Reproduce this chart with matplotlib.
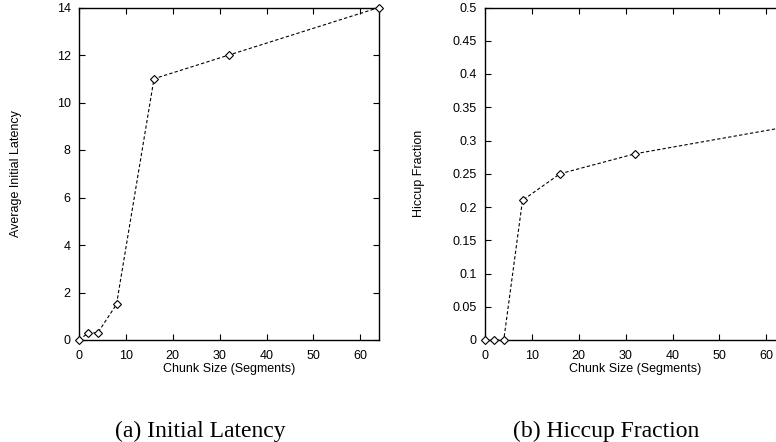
import matplotlib
matplotlib.use("Agg")
import matplotlib.pyplot as plt

# chunk sizes (segments)
chunk = [0, 2, 4, 8, 16, 32, 64]
latency = [0, 0.3, 0.3, 1.5, 11, 12, 14]
hiccup = [0, 0, 0, 0.21, 0.25, 0.28, 0.32]

x_ticks = [0, 10, 20, 30, 40, 50, 60]
lat_ticks = [0, 2, 4, 6, 8, 10, 12, 14]
hic_ticks = [0, 0.05, 0.1, 0.15, 0.2, 0.25, 0.3, 0.35, 0.4, 0.45, 0.5]
hic_labels = ["0", "0.05", "0.1", "0.15", "0.2", "0.25", "0.3", "0.35", "0.4", "0.45", "0.5"]

plt.rcParams['font.family'] = ['Liberation Sans', 'DejaVu Sans']

fig = plt.figure(figsize=(7.76, 4.42), dpi=100)
ax1 = fig.add_axes([79 / 776, 102 / 442, 300 / 776, 332.5 / 442])
ax2 = fig.add_axes([485 / 776, 102 / 442, 300 / 776, 332.5 / 442])


def style(ax):
    ax.tick_params(direction='in', length=4, width=0.8, top=True, right=True,
                   labelsize=9, color='black')
    ax.tick_params(axis='x', pad=7)
    ax.tick_params(axis='y', pad=6)
    for s in ax.spines.values():
        s.set_linewidth(1.0)
    ax.set_xlim(0, 64)
    ax.set_xticks(x_ticks)
    ax.set_xlabel("Chunk Size (Segments)", fontsize=9, labelpad=1)


ax1.plot(chunk, latency, color='black', linestyle='--', linewidth=0.8,
         dashes=(3, 2), marker='D', markersize=3.8, markerfacecolor='white',
         markeredgecolor='black', markeredgewidth=0.8, clip_on=False, zorder=3)
style(ax1)
ax1.set_ylim(0, 14)
ax1.set_yticks(lat_ticks)
ax1.set_ylabel("Average Initial Latency", fontsize=9)
ax1.yaxis.set_label_coords(-0.19, 0.5)

ax2.plot(chunk, hiccup, color='black', linestyle='--', linewidth=0.8,
         dashes=(3, 2), marker='D', markersize=3.8, markerfacecolor='white',
         markeredgecolor='black', markeredgewidth=0.8, clip_on=False, zorder=3)
style(ax2)
ax2.set_ylim(0, 0.5)
ax2.set_yticks(hic_ticks)
ax2.set_yticklabels(hic_labels)
ax2.set_ylabel("Hiccup Fraction", fontsize=9)
ax2.yaxis.set_label_coords(-0.2, 0.5)

fig.text(200 / 776, 1 - 437 / 442, "(a) Initial Latency", family='Liberation Serif',
         fontsize=17, ha='center', va='baseline')
fig.text(606.5 / 776, 1 - 437 / 442, "(b) Hiccup Fraction", family='Liberation Serif',
         fontsize=17, ha='center', va='baseline')

fig.savefig("out.png", dpi=100)
